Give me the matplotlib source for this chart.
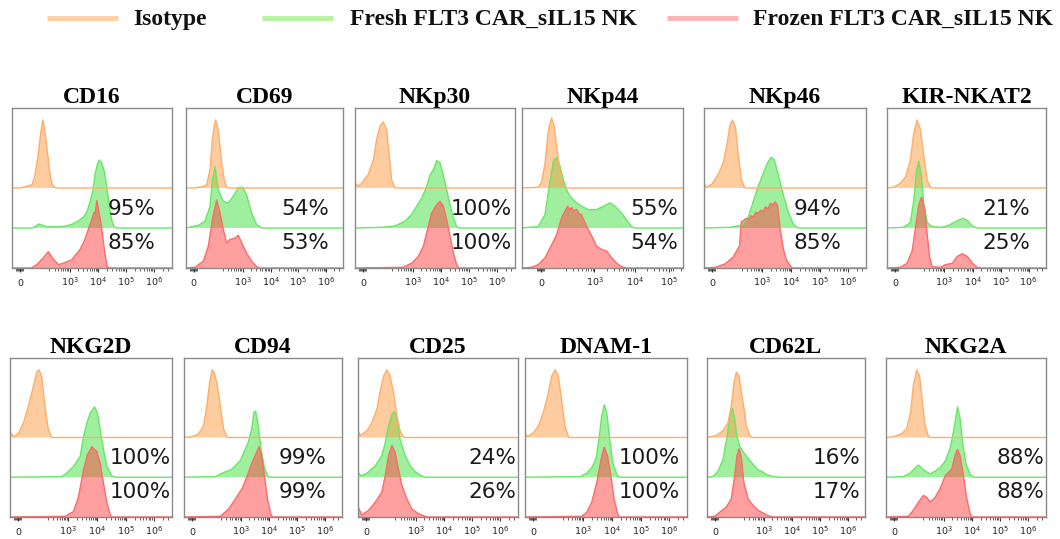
import matplotlib
matplotlib.use("Agg")
import matplotlib.pyplot as plt
import numpy as np
from matplotlib.lines import Line2D

# ---------------- data (x: position across the display axis in % of width, h: % of mode) ----------------
markers = ["CD16", "CD69", "NKp30", "NKp44", "NKp46", "KIR-NKAT2",
           "NKG2D", "CD94", "CD25", "DNAM-1", "CD62L", "NKG2A"]
pct_fresh = ["95%", "54%", "100%", "55%", "94%", "21%", "100%", "99%", "24%", "100%", "16%", "88%"]
pct_frozen = ["85%", "53%", "100%", "54%", "85%", "25%", "100%", "99%", "26%", "100%", "17%", "88%"]

std_tick_pos = [5, 36, 54, 71.5, 89]
std_tick_lab = ["0", "$10^3$", "$10^4$", "$10^5$", "$10^6$"]
nkp44_tick_pos = [12, 45, 70, 91]
nkp44_tick_lab = ["0", "$10^3$", "$10^4$", "$10^5$"]

cd16_iso_x = [0, 5, 10, 12.5, 14, 15.5, 16.5, 17.5, 18.5, 19.2, 20, 21, 22, 23, 24, 25, 26.5, 28, 100]
cd16_iso_h = [0, 0, 3, 5, 15, 35, 51, 72, 90, 100, 92, 75, 55, 35, 17, 6, 1, 0, 0]
cd16_fresh_x = [0, 13, 15, 17, 19, 22, 26, 30, 34, 38, 42, 45, 47, 49, 50.5, 52, 53.5, 54.6, 56, 57.5, 59, 60.5, 62, 63.5, 65, 100]
cd16_fresh_h = [0, 0, 3, 6, 4, 2, 2, 2, 3, 6, 11, 17, 25, 40, 55, 80, 95, 100, 96, 85, 65, 38, 15, 3, 0, 0]
cd16_frozen_x = [0, 12, 15.5, 19.5, 22.7, 25.8, 29, 32, 37.3, 42.5, 45.6, 48.3, 50, 51.3, 52, 53, 54.4, 56, 58, 59.5, 61, 100]
cd16_frozen_h = [0, 0, 5, 15, 24, 13, 5, 7, 12, 27, 42, 61, 72, 82, 80, 99, 82, 60, 22, 2, 0, 0]

cd69_iso_x = [0, 5, 8, 11, 13.2, 15.3, 16.8, 18, 18.9, 20, 21, 22.7, 24.4, 25.9, 27, 100]
cd69_iso_h = [0, 0, 1, 2, 5, 27, 71, 92, 100, 92, 76, 37, 12, 1, 0, 0]
cd69_fresh_x = [0, 3.6, 8, 12.1, 15.3, 16.8, 18.5, 20.6, 23.8, 27, 30.1, 33.3, 36.1, 38.6, 41.8, 45, 48.2, 100]
cd69_fresh_h = [0, 2, 4, 10, 32, 71, 90, 56, 39, 37, 47, 59, 60, 49, 22, 5, 0, 0]
cd69_frozen_x = [0, 5.7, 11, 14.2, 16.8, 19.5, 21.7, 23.8, 25.9, 28, 31.2, 33.3, 35.5, 38.6, 41.8, 45, 47.1, 100]
cd69_frozen_h = [0, 1, 10, 32, 71, 100, 81, 56, 37, 42, 44, 48, 37, 22, 10, 2, 0, 0]

nkp30_iso_x = [0, 0, 2, 4.2, 8.3, 11.5, 13.5, 15.6, 17.7, 19.8, 21.25, 22.9, 25, 100]
nkp30_iso_h = [0, 7, 3, 7, 20, 42, 71, 91, 97, 86, 51, 12, 0, 0]
nkp30_fresh_x = [0, 16.7, 25, 31.25, 35.4, 38.5, 41.7, 44.8, 46.9, 49, 51, 53.1, 55.2, 57.3, 59.4, 61.5, 63.5, 65, 100]
nkp30_fresh_h = [0, 1, 3, 10, 20, 32, 44, 61, 78, 86, 99, 96, 78, 56, 34, 15, 2, 0, 0]
nkp30_frozen_x = [0, 30, 35.4, 39.6, 42.7, 45.8, 47.9, 51, 53.1, 55.2, 57.3, 59.4, 61.5, 63.5, 65, 100]
nkp30_frozen_h = [0, 1, 7, 17, 32, 61, 81, 93, 98, 91, 71, 47, 22, 5, 0, 0]

nkp44_iso_x = [0, 10.1, 12.2, 14.3, 16.4, 18.4, 20.1, 21.5, 23.6, 25.7, 27.1, 100]
nkp44_iso_h = [0, 1, 9, 36, 85, 103, 90, 60, 26, 4, 0, 0]
nkp44_fresh_x = [0, 3.9, 10.1, 14.3, 17.4, 19.5, 21.5, 23.6, 25.7, 27.7, 29.8, 32.9, 37, 41.2, 46.4, 50.5, 54.7, 57.8, 61.8, 65, 68.1, 70.2, 100]
nkp44_fresh_h = [0, 1, 2, 20, 69, 98, 104, 91, 71, 56, 47, 39, 32, 27, 27, 32, 37, 32, 22, 12, 2, 0, 0]
nkp44_frozen_x = [0, 6, 10.1, 14.3, 18.4, 21.5, 24.6, 28.4, 29.5, 30.8, 32, 33.9, 35.5, 37, 40.2, 43.3, 46.4, 49.5, 52.6, 55.7, 58.8, 61.9, 65, 100]
nkp44_frozen_h = [0, 1, 5, 15, 34, 49, 74, 91, 85, 89, 84, 86, 80, 78, 61, 47, 32, 27, 25, 15, 7, 2, 0, 0]

nkp46_iso_x = [0, 0, 1.4, 5, 9, 12, 14, 16, 17.6, 19.4, 21, 23, 25, 26.6, 100]
nkp46_iso_h = [0, 7, 1, 6, 21, 38, 62, 92, 100, 89, 52, 13, 1, 0, 0]
nkp46_fresh_x = [0, 16, 23, 27, 30, 33, 36, 39, 41.4, 43.4, 46, 49, 52, 55, 58, 100]
nkp46_fresh_h = [0, 1, 4, 14, 36, 58, 77, 95, 104, 100, 77, 48, 24, 6, 0, 0]
nkp46_frozen_x = [0, 7, 13, 18, 22, 23, 24.5, 26, 27.5, 29, 30.5, 32, 33.5, 35, 36.5, 38, 39.5, 41, 42.5, 44, 45.4, 47, 49, 51, 54, 55, 100]
nkp46_frozen_h = [0, 1, 6, 16, 33, 68, 70, 73, 71, 77, 75, 82, 80, 85, 83, 90, 87, 95, 93, 97, 92, 58, 28, 11, 1, 0, 0]

kir_iso_x = [0, 4.2, 8.4, 11.6, 14.7, 16.8, 18.9, 21.1, 23.2, 25.3, 27.4, 28.4, 100]
kir_iso_h = [0, 1, 7, 16, 41, 80, 100, 85, 46, 11, 1, 0, 0]
kir_fresh_x = [0, 10.5, 14.7, 16.8, 18.5, 20, 21.7, 23.2, 25.3, 28.4, 33.7, 37.9, 42.1, 45.3, 48, 50.5, 53.7, 56.8, 100]
kir_fresh_h = [0, 1, 8, 40, 84, 98, 75, 35, 8, 2, 1, 3, 8, 12, 14, 11, 3, 0, 0]
kir_frozen_x = [0, 8.4, 12.6, 15.8, 17.9, 20, 21.7, 23.6, 25.3, 26.9, 28.4, 33.7, 36.8, 41.1, 44.2, 47.4, 50.5, 53.7, 56.8, 58.9, 100]
kir_frozen_h = [0, 1, 7, 25, 59, 93, 104, 88, 49, 15, 2, 1, 5, 7, 17, 21, 17, 7, 1, 0, 0]

nkg2d_iso_x = [0, 0, 2.1, 5.2, 8.2, 11.3, 14.4, 16.5, 17.9, 19.6, 21.6, 23.7, 25.8, 100]
nkg2d_iso_h = [0, 9, 1, 6, 21, 46, 75, 97, 100, 90, 46, 11, 0, 0]
nkg2d_fresh_x = [0, 32, 35, 39.2, 43.3, 45.4, 47.4, 49.5, 52.2, 54, 55.7, 57.7, 59.8, 62.9, 64.9, 100]
nkg2d_fresh_h = [0, 1, 6, 16, 31, 60, 80, 95, 104, 95, 70, 41, 16, 2, 0, 0]
nkg2d_frozen_x = [0, 34, 39.2, 42.3, 45.4, 47.8, 50.5, 53.6, 55.7, 57.7, 59.8, 61.9, 62.9, 100]
nkg2d_frozen_h = [0, 1, 8, 30, 70, 92, 104, 97, 79, 50, 21, 3, 0, 0]

cd94_iso_x = [0, 4.9, 9.1, 12.3, 14.5, 16.2, 17.8, 19.1, 20.9, 23, 25.1, 27.2, 28.3, 100]
cd94_iso_h = [0, 1, 5, 17, 47, 81, 100, 96, 80, 47, 12, 1, 0, 0]
cd94_fresh_x = [0, 19.8, 25.1, 30.4, 33.6, 35.7, 37.9, 40.6, 42.8, 44.3, 45.3, 47, 48.5, 50.6, 52.8, 53.8, 100]
cd94_fresh_h = [0, 1, 7, 12, 20, 25, 37, 51, 71, 96, 98, 76, 47, 17, 2, 0, 0]
cd94_frozen_x = [0, 23, 28.3, 32.6, 36.8, 40, 43.2, 46, 47.4, 49.1, 50.6, 52.8, 54.9, 56, 100]
cd94_frozen_h = [0, 1, 12, 27, 42, 61, 81, 96, 104, 91, 66, 27, 5, 0, 0]

cd25_iso_x = [0, 0, 1.5, 5.6, 8.7, 11.8, 13.9, 16, 18, 20.1, 22.2, 24.3, 26.3, 28.4, 29.5, 100]
cd25_iso_h = [0, 10, 3, 10, 22, 42, 69, 91, 100, 91, 66, 32, 10, 1, 0, 0]
cd25_fresh_x = [0, 0, 2.1, 5.6, 10.8, 14.9, 17, 19.1, 21.2, 22.6, 24.3, 26.3, 29.5, 32.6, 35.7, 39.8, 41.9, 100]
cd25_fresh_h = [0, 7, 2, 6, 17, 32, 51, 76, 93, 97, 88, 56, 32, 17, 8, 2, 0, 0]
cd25_frozen_x = [0, 0, 2.5, 6.6, 10.8, 14.9, 17, 19.1, 21.2, 23.2, 25.3, 27.4, 30.5, 33.6, 37.8, 41.9, 44, 100]
cd25_frozen_h = [0, 15, 3, 10, 22, 37, 61, 91, 106, 96, 71, 47, 27, 12, 5, 1, 0, 0]

dnam_iso_x = [0, 0, 1.4, 5.2, 8.2, 11.3, 14.4, 16.5, 18.6, 20.6, 22.7, 24.7, 26.8, 27.8, 100]
dnam_iso_h = [0, 7, 1, 7, 17, 37, 66, 91, 100, 91, 52, 17, 1, 0, 0]
dnam_fresh_x = [0, 34, 38.1, 41.2, 43.9, 46, 47.4, 48.9, 50.5, 52.2, 54.2, 56.7, 58.4, 100]
dnam_fresh_h = [0, 1, 6, 14, 28, 63, 92, 107, 95, 58, 21, 4, 0, 0]
dnam_frozen_x = [0, 35, 38.1, 41.2, 44.3, 47, 48.9, 50.9, 53, 55, 57.1, 58.4, 100]
dnam_frozen_h = [0, 1, 7, 22, 51, 86, 103, 91, 61, 27, 5, 0, 0]

cd62l_iso_x = [0, 1.7, 5.9, 10.1, 13.3, 15.4, 17.1, 18.6, 20.3, 21.8, 23.5, 24.9, 27.1, 28.8, 100]
cd62l_iso_h = [0, 1, 3, 10, 22, 47, 81, 97, 91, 66, 42, 17, 3, 0, 0]
cd62l_fresh_x = [0, 3.8, 7, 10.1, 12.7, 14.4, 16.1, 17.5, 19, 20.7, 22.8, 26, 29.2, 32.3, 34.5, 37.6, 41.9, 46.1, 100]
cd62l_fresh_h = [0, 1, 9, 26, 60, 90, 102, 87, 60, 46, 38, 28, 19, 11, 9, 4, 1, 0, 0]
cd62l_frozen_x = [0, 4.9, 8, 12.3, 15.4, 17.5, 19, 20.3, 21.8, 23.3, 26, 29.2, 32.3, 35.5, 38.7, 41.9, 100]
cd62l_frozen_h = [0, 1, 7, 15, 27, 61, 91, 101, 88, 51, 27, 17, 10, 6, 2, 0, 0]

nkg2a_iso_x = [0, 4.6, 9.8, 12.9, 15.4, 17.1, 19.2, 20.9, 22.8, 24.4, 26.5, 27.6, 100]
nkg2a_iso_h = [0, 1, 6, 13, 38, 77, 100, 92, 52, 18, 2, 0, 0]
nkg2a_fresh_x = [0, 10.9, 15, 18.2, 20.3, 23.4, 27.6, 30.7, 33.8, 37, 40.1, 42.6, 44.7, 46.3, 48, 50.1, 52.6, 54.7, 100]
nkg2a_fresh_h = [0, 1, 6, 14, 18, 11, 5, 9, 14, 24, 43, 73, 104, 87, 48, 19, 4, 0, 0]
nkg2a_frozen_x = [0, 14, 17.1, 20.3, 23.4, 25.5, 27.6, 30.7, 33.8, 37, 39, 41.1, 43.2, 44.7, 46.3, 48.4, 50.5, 52.6, 53.7, 100]
nkg2a_frozen_h = [0, 1, 10, 22, 32, 29, 22, 29, 42, 61, 66, 71, 91, 100, 91, 61, 27, 5, 0, 0]

curves = [
    ((cd16_iso_x, cd16_iso_h), (cd16_fresh_x, cd16_fresh_h), (cd16_frozen_x, cd16_frozen_h)),
    ((cd69_iso_x, cd69_iso_h), (cd69_fresh_x, cd69_fresh_h), (cd69_frozen_x, cd69_frozen_h)),
    ((nkp30_iso_x, nkp30_iso_h), (nkp30_fresh_x, nkp30_fresh_h), (nkp30_frozen_x, nkp30_frozen_h)),
    ((nkp44_iso_x, nkp44_iso_h), (nkp44_fresh_x, nkp44_fresh_h), (nkp44_frozen_x, nkp44_frozen_h)),
    ((nkp46_iso_x, nkp46_iso_h), (nkp46_fresh_x, nkp46_fresh_h), (nkp46_frozen_x, nkp46_frozen_h)),
    ((kir_iso_x, kir_iso_h), (kir_fresh_x, kir_fresh_h), (kir_frozen_x, kir_frozen_h)),
    ((nkg2d_iso_x, nkg2d_iso_h), (nkg2d_fresh_x, nkg2d_fresh_h), (nkg2d_frozen_x, nkg2d_frozen_h)),
    ((cd94_iso_x, cd94_iso_h), (cd94_fresh_x, cd94_fresh_h), (cd94_frozen_x, cd94_frozen_h)),
    ((cd25_iso_x, cd25_iso_h), (cd25_fresh_x, cd25_fresh_h), (cd25_frozen_x, cd25_frozen_h)),
    ((dnam_iso_x, dnam_iso_h), (dnam_fresh_x, dnam_fresh_h), (dnam_frozen_x, dnam_frozen_h)),
    ((cd62l_iso_x, cd62l_iso_h), (cd62l_fresh_x, cd62l_fresh_h), (cd62l_frozen_x, cd62l_frozen_h)),
    ((nkg2a_iso_x, nkg2a_iso_h), (nkg2a_fresh_x, nkg2a_fresh_h), (nkg2a_frozen_x, nkg2a_frozen_h)),
]

# ---------------- layout / style ----------------
W, H = 1060, 539
fig = plt.figure(figsize=(W / 100, H / 100), dpi=100)

row_tb = [(108, 268), (358, 517)]
cols = [[(12, 172), (186, 343), (355, 515), (522, 683), (704, 866), (887, 1046)],
        [(10, 172), (184, 342), (358, 518), (525, 687), (707, 865), (886, 1046)]]
pct_xfrac = [0.595, 0.61, 0.595, 0.67, 0.555, 0.60, 0.615, 0.598, 0.69, 0.578, 0.668, 0.69]

fill_col = {"iso": "#FF9A40", "fresh": "#40E040", "frozen": "#FF4040"}
edge_col = {"iso": "#FFAE6A", "fresh": "#66E866", "frozen": "#FF6A6A"}
base = {"iso": 80, "fresh": 40, "frozen": 0}
hscale = 0.68
serif = "Liberation Serif"

for i, name in enumerate(markers):
    r, c = divmod(i, 6)
    l, rr = cols[r][c]
    t, b = row_tb[r]
    ax = fig.add_axes([l / W, 1 - b / H, (rr - l) / W, (b - t) / H])
    iso, fresh, frozen = curves[i]
    for key, (xs, hs) in (("fresh", fresh), ("iso", iso), ("frozen", frozen)):
        xs = np.asarray(xs, float)
        ys = base[key] + np.asarray(hs, float) * hscale
        ax.fill(xs, ys, facecolor=fill_col[key], alpha=0.5, edgecolor="none", zorder=2)
        ax.plot(xs, ys, color=edge_col[key], lw=1.0, zorder=3)
    ax.set_xlim(0, 100)
    ax.set_ylim(0, 160)
    ax.set_yticks([])
    for s in ax.spines.values():
        s.set_color("#8a8a8a")
        s.set_linewidth(1.0)
        s.set_zorder(4)

    if name == "NKp44":
        tp, tl = nkp44_tick_pos, nkp44_tick_lab
    else:
        tp, tl = std_tick_pos, std_tick_lab
    ax.set_xticks(tp)
    ax.set_xticklabels(tl)
    d = tp[2] - tp[1]
    minors = []
    for p in [tp[1] - d] + tp[1:]:
        for m in range(2, 10):
            v = p + np.log10(m) * d
            if tp[0] + 3 < v < 99:
                minors.append(v)
    minors += [tp[0] + o for o in (-2.4, -1.8, -1.2, -0.6, 0.6, 1.2, 1.8)]
    ax.set_xticks(minors, minor=True)
    ax.tick_params(axis="x", which="major", length=3, width=0.8, color="#333333",
                   direction="out", labelsize=6.8, pad=10, labelcolor="#222222")
    ax.tick_params(axis="x", which="minor", length=2, width=0.6, color="#444444", direction="out")
    for lab in ax.get_xticklabels():
        lab.set_va("baseline")

    ax.set_title(name, fontsize=17, fontweight="bold", family=serif, pad=3)
    tr = ax.get_yaxis_transform()
    ax.text(pct_xfrac[i], 59, pct_fresh[i], transform=tr, ha="left", va="center",
            fontsize=15.5, color="#1a1a1a", zorder=5)
    ax.text(pct_xfrac[i], 25, pct_frozen[i], transform=tr, ha="left", va="center",
            fontsize=15.5, color="#1a1a1a", zorder=5)

# legend (figure level)
leg_items = [("Isotype", "#FFCFA3", 47, 118, 133),
             ("Fresh FLT3 CAR_sIL15 NK", "#B6F3A0", 262, 333, 350),
             ("Frozen FLT3 CAR_sIL15 NK", "#FFB3B3", 667, 738, 753)]
for lab, col, x0, x1, xt in leg_items:
    fig.add_artist(Line2D([x0 / W, x1 / W], [1 - 18 / H] * 2, transform=fig.transFigure,
                          color=col, lw=3.5, solid_capstyle="butt"))
    fig.text(xt / W, 1 - 25 / H, lab, ha="left", va="baseline", fontsize=17,
             fontweight="bold", family=serif, color="#111111")

fig.savefig("out.png", dpi=100)
